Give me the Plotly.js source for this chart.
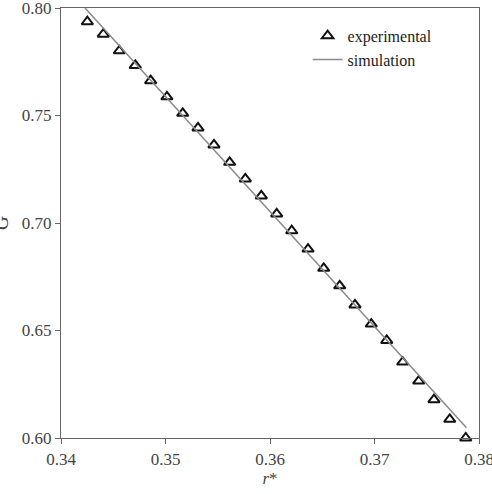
<!DOCTYPE html>
<html>
<head>
<meta charset="utf-8">
<script src="https://cdn.plot.ly/plotly-3.0.1.min.js"></script>
<style>html,body{margin:0;padding:0;background:#fff;}#chart{width:492px;height:494px;}</style>
</head>
<body>
<div id="chart"></div>
<script>
// Experimental data
const expX = [0.34252, 0.34405, 0.34558, 0.34711, 0.34858, 0.35014, 0.35165, 0.35311, 0.35464, 0.35614,
              0.35764, 0.35917, 0.36064, 0.36208, 0.36364, 0.36514, 0.36667, 0.36813, 0.36969, 0.37117,
              0.37270, 0.37423, 0.37569, 0.37720, 0.37873];
const expY = [0.7936, 0.7878, 0.7801, 0.7733, 0.7662, 0.7587, 0.7510, 0.7442, 0.7363, 0.7282,
              0.7205, 0.7126, 0.7042, 0.6964, 0.6879, 0.6789, 0.6708, 0.6619, 0.6530, 0.6454,
              0.6353, 0.6265, 0.6178, 0.6087, 0.6000];
// Simulation line
const simX = [0.3423, 0.3500, 0.3600, 0.3700, 0.3788];
const simY = [0.8000, 0.7588, 0.7053, 0.6518, 0.6048];
const xTicks = [0.34, 0.35, 0.36, 0.37, 0.38];
const yTicks = [0.60, 0.65, 0.70, 0.75, 0.80];
const yTitle = '<i>G</i>';

const font = 'Liberation Serif, Times New Roman, serif';

const data = [
  {x: expX, y: expY, type: 'scatter', mode: 'markers', name: 'experimental', cliponaxis: false,
   marker: {symbol: 'triangle-up-open', size: 10, color: '#111', line: {width: 2, color: '#111'}}},
  {x: simX, y: simY, type: 'scatter', mode: 'lines', name: 'simulation',
   line: {color: '#8a8a8a', width: 1.5}}
];

const layout = {
  width: 492, height: 494,
  margin: {l: 61, r: 13, t: 8, b: 56},
  paper_bgcolor: '#fff', plot_bgcolor: '#fff',
  font: {family: font, size: 17, color: '#444'},
  showlegend: true,
  legend: {x: 0.59, y: 0.975, xanchor: 'left', yanchor: 'top', bgcolor: 'rgba(0,0,0,0)',
           font: {family: font, size: 16, color: '#222'}, tracegroupgap: 0},
  xaxis: {
    range: [0.34, 0.38], tickvals: xTicks, ticktext: xTicks.map(v => v.toFixed(2)),
    showgrid: false, zeroline: false, showline: true, linecolor: '#666', linewidth: 1.2,
    mirror: true, ticks: 'outside', ticklen: 5, tickcolor: '#666', automargin: false,
    ticklabeloverflow: 'allow',
    tickfont: {family: font, size: 17, color: '#444'},
    title: {text: '<i>r</i>*', font: {family: font, size: 17, color: '#444'}, standoff: 2}
  },
  yaxis: {
    range: [0.60, 0.80], tickvals: yTicks, ticktext: yTicks.map(v => v.toFixed(2)),
    showgrid: false, zeroline: false, showline: true, linecolor: '#666', linewidth: 1.2,
    mirror: true, ticks: 'outside', ticklen: 5, tickcolor: '#666', automargin: false,
    ticklabeloverflow: 'allow',
    tickfont: {family: font, size: 17, color: '#444'}
  },
  annotations: [{
    text: yTitle, xref: 'paper', yref: 'paper', x: -0.143, y: 0.5,
    xanchor: 'center', yanchor: 'middle', textangle: -90, showarrow: false,
    font: {family: font, size: 20, color: '#444'}
  }]
};

Plotly.newPlot('chart', data, layout, {displayModeBar: false, staticPlot: true});
</script>
</body>
</html>
